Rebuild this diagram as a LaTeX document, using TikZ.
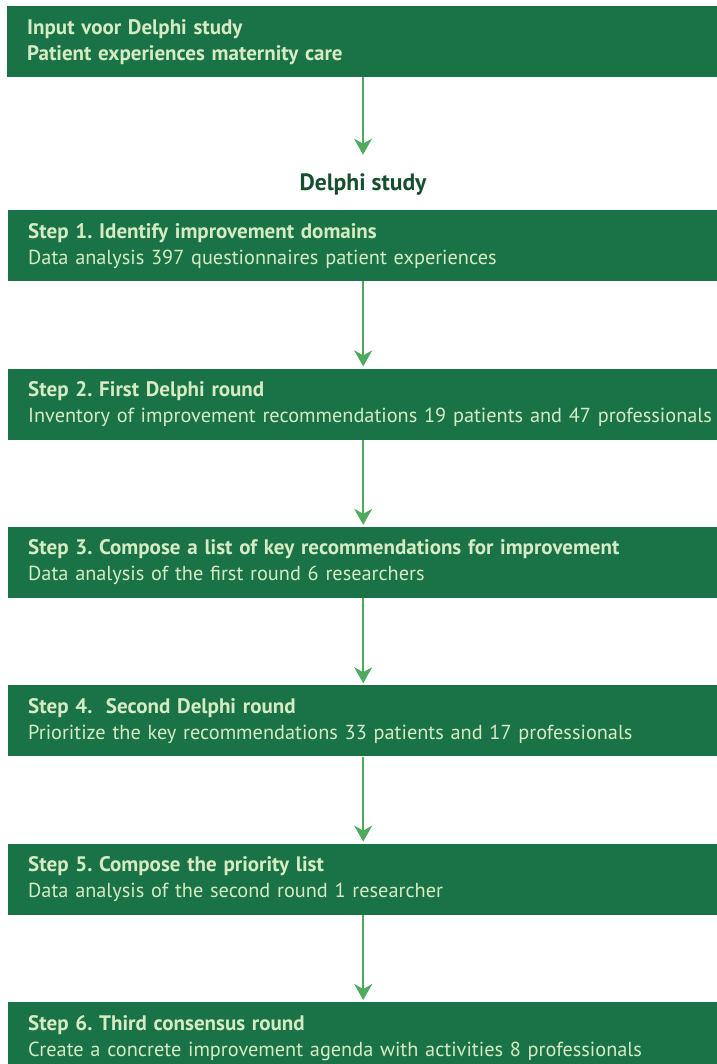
\documentclass[tikz,border=0pt]{standalone}
\usepackage{fontspec}
\setmainfont{PT Sans}[BoldFeatures={Scale=1.035}]
\usetikzlibrary{positioning,arrows.meta}
\definecolor{delgreen}{HTML}{1A7347}
\definecolor{delink}{HTML}{D6EBC4}
\definecolor{delarrow}{HTML}{4DAA5E}
\definecolor{deldark}{HTML}{154F2E}
\begin{document}
\frenchspacing
\begin{tikzpicture}[
  font=\fontsize{20.3}{26}\selectfont, >={Stealth[length=16pt,width=18pt,inset=5pt]},
  stepbox/.style={fill=delgreen, text=delink, minimum height=71pt, text width=670pt, inner xsep=20pt, inner ysep=0pt, align=left},
  phase/.style={font=\fontsize{22.8}{26}\selectfont\bfseries, text=deldark},
  link/.style={->, draw=delarrow, line width=1.8pt, shorten >=2pt},
  node distance=87pt]
\useasboundingbox (0,0) rectangle (716pt,-1064pt);
% input
\node[stepbox, anchor=north west] (input) at (7pt,-6pt) {\textbf{Input voor Delphi study}\\\textbf{Patient experiences maternity care}};
\node[phase] (delphi) at (363pt,-185pt) {Delphi study};
% steps
\node[stepbox, anchor=north west] (s1) at (8pt,-210pt) {\textbf{Step 1. Identify improvement domains}\\Data analysis 397 questionnaires patient experiences};
\node[stepbox, below=of s1] (s2) {\textbf{Step 2. First Delphi round}\\\mbox{Inventory of improvement recommendations 19 patients and 47 professionals}};
\node[stepbox, below=of s2] (s3) {\textbf{Step 3. Compose a list of key recommendations for improvement}\\Data analysis of the first round 6 researchers};
\node[stepbox, below=of s3] (s4) {\textbf{Step 4.\ \ Second Delphi round}\\Prioritize the key recommendations 33 patients and 17 professionals};
\node[stepbox, below=of s4] (s5) {\textbf{Step 5. Compose the priority list}\\Data analysis of the second round 1 researcher};
\node[stepbox, below=of s5] (s6) {\textbf{Step 6. Third consensus round}\\Create a concrete improvement agenda with activities 8 professionals};
% links
\draw[link, shorten >=16pt] (input.south -| delphi) -- (delphi.north);
\draw[link] (s1) -- (s2);
\draw[link] (s2) -- (s3);
\draw[link] (s3) -- (s4);
\draw[link] (s4) -- (s5);
\draw[link] (s5) -- (s6);
\end{tikzpicture}
\end{document}
